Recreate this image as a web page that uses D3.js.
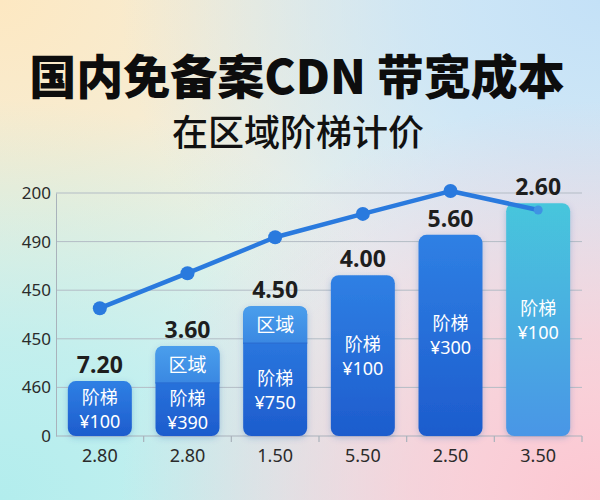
<!DOCTYPE html>
<html>
<head>
  <meta charset="utf-8">
  <script src="https://d3js.org/d3.v7.min.js"></script>
  <title>国内免备案CDN 带宽成本</title>
  <style>
  body { margin: 0; font-family: "Noto Sans CJK SC", "Noto Sans", sans-serif; }
  svg { display: block; }
  </style>
</head>
<body>
<svg id="chart" width="600" height="500"></svg>
<script>
// chart values
var categories = ["2.80", "2.80", "1.50", "5.50", "2.50", "3.50"];
var barValues = [1.13, 1.85, 2.67, 3.31, 4.14, 4.79];      // bar heights in axis units
var barLabels = ["7.20", "3.60", "4.50", "4.00", "5.60", "2.60"];
var priceLabels = ["¥100", "¥390", "¥750", "¥100", "¥300", "¥100"];
var hasRegion = [false, true, true, false, false, false];
var lineValues = [2.63, 3.35, 4.09, 4.57, 5.04, 4.65];
var yTicks = [0, 1, 2, 3, 4, 5];
var yTickLabels = ["0", "460", "450", "450", "490", "200"];

var svg = d3.select("#chart");
var W = 600, H = 500;
var margin = {top: 193, right: 18, bottom: 64, left: 56};

var defs = svg.append("defs");

// background: base + four soft corner glows
svg.append("rect").attr("width", W).attr("height", H).attr("fill", "#e9f5f4");
var corners = [
  {id: "tl", cx: "0%", cy: "0%", c: "#fde8c2"},
  {id: "tr", cx: "100%", cy: "0%", c: "#c4e1f7"},
  {id: "bl", cx: "0%", cy: "100%", c: "#b2eded"},
  {id: "br", cx: "100%", cy: "100%", c: "#fdc6d1"}
];
corners.forEach(function(k) {
  var g = defs.append("radialGradient").attr("id", "bg-" + k.id)
    .attr("cx", k.cx).attr("cy", k.cy).attr("r", "80%");
  g.append("stop").attr("offset", "0%").attr("stop-color", k.c).attr("stop-opacity", 1);
  g.append("stop").attr("offset", "40%").attr("stop-color", k.c).attr("stop-opacity", 0.7);
  g.append("stop").attr("offset", "100%").attr("stop-color", k.c).attr("stop-opacity", 0);
  svg.append("rect").attr("width", W).attr("height", H).attr("fill", "url(#bg-" + k.id + ")");
});

// gradients for bars
function vGrad(id, top, bottom) {
  var g = defs.append("linearGradient").attr("id", id)
    .attr("x1", 0).attr("y1", 0).attr("x2", 0).attr("y2", 1);
  g.append("stop").attr("offset", "0%").attr("stop-color", top);
  g.append("stop").attr("offset", "100%").attr("stop-color", bottom);
}
vGrad("barBlue", "#2f80e4", "#1d5ccd");
vGrad("barTeal", "#47c6dc", "#4a96e6");
vGrad("headBlue", "#4a9eec", "#3a88e2");

var shadow = defs.append("filter").attr("id", "shadow")
  .attr("x", "-20%").attr("y", "-20%").attr("width", "140%").attr("height", "140%");
shadow.append("feDropShadow").attr("dx", 0).attr("dy", 2).attr("stdDeviation", 3)
  .attr("flood-color", "#1a4fa8").attr("flood-opacity", 0.25);

// titles
svg.append("text")
  .attr("x", 297).attr("y", 94)
  .attr("text-anchor", "middle")
  .style("font-size", "47px").style("font-weight", 900).style("fill", "#0d0d0d")
  .text("国内免备案CDN 带宽成本");
svg.append("text")
  .attr("x", 298).attr("y", 146)
  .attr("text-anchor", "middle")
  .style("font-size", "36px").style("font-weight", 500).style("fill", "#111")
  .text("在区域阶梯计价");

var x = d3.scaleBand().domain(d3.range(categories.length))
  .range([margin.left, W - margin.right]).paddingInner(0.27).paddingOuter(0.135);
var xb = d3.scaleBand().domain(d3.range(categories.length))
  .range([margin.left, W - margin.right]);
var y = d3.scaleLinear().domain([0, 5]).range([H - margin.bottom, margin.top]);

// grid lines
svg.append("g").selectAll("line").data(yTicks.slice(1)).enter().append("line")
  .attr("x1", margin.left).attr("x2", W - margin.right)
  .attr("y1", function(d) { return y(d); }).attr("y2", function(d) { return y(d); })
  .style("stroke", "#b3bcc5").style("stroke-width", 1);

// y axis
var yAxis = svg.append("g")
  .attr("transform", "translate(" + margin.left + ",0)")
  .call(d3.axisLeft(y).tickValues(yTicks).tickSize(0).tickPadding(5)
    .tickFormat(function(d, i) { return yTickLabels[i]; }));
yAxis.select(".domain").style("stroke", "#a9b2bb");
yAxis.selectAll("text").style("font-size", "17px").style("fill", "#2b2b2b")
  .style("font-family", "'Noto Sans', sans-serif");

// x axis: ticks on band boundaries
var xAxis = svg.append("g")
  .attr("transform", "translate(0," + y(0) + ")");
xAxis.append("line").attr("x1", margin.left).attr("x2", W - margin.right)
  .style("stroke", "#a9b2bb").style("stroke-width", 1.2);
xAxis.selectAll(".tk").data(d3.range(1, categories.length + 1)).enter().append("line")
  .attr("x1", function(i) { return i < categories.length ? xb(i) : W - margin.right; })
  .attr("x2", function(i) { return i < categories.length ? xb(i) : W - margin.right; })
  .attr("y1", 0).attr("y2", 6)
  .style("stroke", "#a9b2bb").style("stroke-width", 1.2);
xAxis.selectAll(".lbl").data(categories).enter().append("text")
  .attr("x", function(d, i) { return xb(i) + xb.bandwidth() / 2; })
  .attr("y", 26)
  .attr("text-anchor", "middle")
  .style("font-size", "18px").style("fill", "#2b2b2b")
  .style("font-family", "'Noto Sans', sans-serif")
  .text(function(d) { return d; });

// bars
var headH = 37;
var bars = svg.append("g").selectAll("g").data(barValues).enter().append("g");
bars.append("rect")
  .attr("x", function(d, i) { return x(i); })
  .attr("y", function(d) { return y(d); })
  .attr("width", x.bandwidth())
  .attr("height", function(d) { return y(0) - y(d); })
  .attr("rx", 8)
  .attr("fill", function(d, i) { return i === categories.length - 1 ? "url(#barTeal)" : "url(#barBlue)"; })
  .attr("filter", "url(#shadow)");

// "区域" header blocks
bars.filter(function(d, i) { return hasRegion[i]; }).each(function(d) {
  var i = barValues.indexOf(d);
  var g = d3.select(this);
  g.append("path")
    .attr("d", function() {
      var x0 = x(i), x1 = x(i) + x.bandwidth(), t = y(d), b = y(d) + headH, r = 8;
      return "M" + x0 + "," + b + "V" + (t + r) + "Q" + x0 + "," + t + " " + (x0 + r) + "," + t +
        "H" + (x1 - r) + "Q" + x1 + "," + t + " " + x1 + "," + (t + r) + "V" + b + "Z";
    })
    .attr("fill", "url(#headBlue)");
  g.append("line")
    .attr("x1", x(i)).attr("x2", x(i) + x.bandwidth())
    .attr("y1", y(d) + headH).attr("y2", y(d) + headH)
    .style("stroke", "#2a6fd4").style("stroke-width", 1.5);
  g.append("text")
    .attr("x", x(i) + x.bandwidth() / 2).attr("y", y(d) + headH / 2 + 7)
    .attr("text-anchor", "middle")
    .style("font-size", "19px").style("fill", "#fff")
    .text("区域");
});

// inner text, centred in body below header
function bodyMid(d, i) {
  var top = y(d) + (hasRegion[i] ? headH : 0);
  return (top + y(0)) / 2;
}
bars.append("text")
  .attr("x", function(d, i) { return x(i) + x.bandwidth() / 2; })
  .attr("y", function(d, i) { return bodyMid(d, i) - 5; })
  .attr("text-anchor", "middle")
  .style("font-size", "18px").style("fill", "#fff")
  .text("阶梯");
bars.append("text")
  .attr("x", function(d, i) { return x(i) + x.bandwidth() / 2; })
  .attr("y", function(d, i) { return bodyMid(d, i) + 19; })
  .attr("text-anchor", "middle")
  .style("font-size", "18px").style("fill", "#fff")
  .style("font-family", "'Noto Sans', sans-serif")
  .text(function(d, i) { return priceLabels[i]; });

// value labels above bars
bars.append("text")
  .attr("x", function(d, i) { return x(i) + x.bandwidth() / 2; })
  .attr("y", function(d) { return y(d) - 8; })
  .attr("text-anchor", "middle")
  .style("font-size", "23px").style("font-weight", "bold").style("fill", "#1e1e1e")
  .style("font-family", "'Noto Sans', sans-serif")
  .text(function(d, i) { return barLabels[i]; });

// line
var cx = function(d, i) { return xb(i) + xb.bandwidth() / 2; };
var line = d3.line().x(cx).y(function(d) { return y(d); });
svg.append("path").datum(lineValues)
  .attr("d", line)
  .style("fill", "none").style("stroke", "#2a7ade").style("stroke-width", 4.5)
  .style("stroke-linejoin", "round").style("stroke-linecap", "round");
svg.append("g").selectAll("circle").data(lineValues).enter().append("circle")
  .attr("cx", cx).attr("cy", function(d) { return y(d); })
  .attr("r", function(d, i) { return i === lineValues.length - 1 ? 4.5 : 7; })
  .style("fill", function(d, i) { return i === lineValues.length - 1 ? "#3f93e4" : "#2a7ade"; });
</script>
</body>
</html>
